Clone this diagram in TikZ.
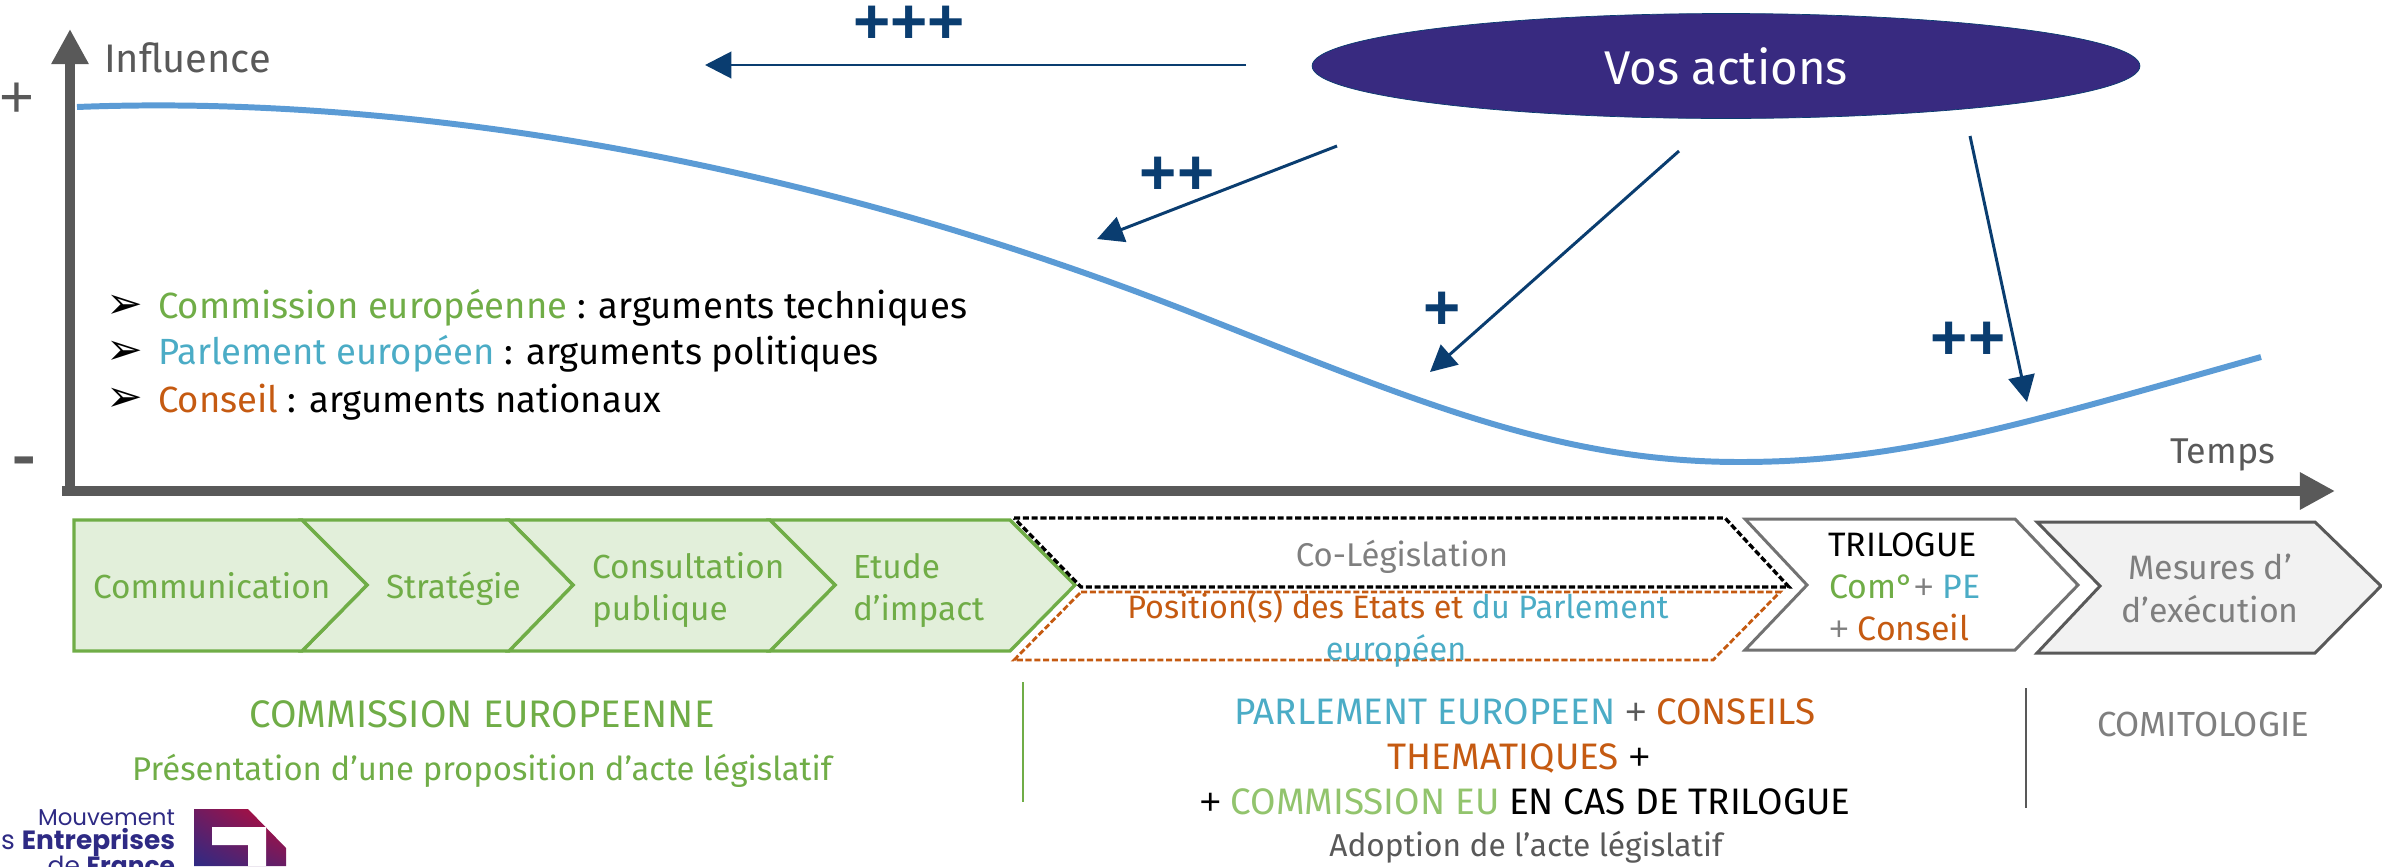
\documentclass[tikz,border=0pt]{standalone}
\usepackage{fontspec}
\setmainfont{Fira Sans}
\newfontfamily\dejavu{DejaVu Sans}
\newfontfamily\libs{Liberation Sans}
\newfontfamily\popp{Poppins}
\usetikzlibrary{arrows.meta,shapes.geometric,shadings}
\definecolor{cgreen}{HTML}{70AD47}
\definecolor{cfill}{HTML}{E2EFDA}
\definecolor{cblue}{HTML}{4BACC6}
\definecolor{corange}{HTML}{C55A11}
\definecolor{cgrey}{HTML}{7F7F7F}
\definecolor{cdark}{HTML}{595959}
\definecolor{cnavy}{HTML}{0A3D70}
\definecolor{cviolet}{HTML}{382A80}
\definecolor{ccurve}{HTML}{5B9BD5}
\definecolor{clight}{HTML}{92C46D}
\definecolor{clogoA}{HTML}{C00A35}
\definecolor{clogoB}{HTML}{2E2A84}
\newcommand{\sz}[1]{\fontsize{\dimexpr#1pt*567/1000\relax}{\dimexpr#1pt*7/10\relax}\selectfont}
\newcommand{\pl}{{\libs +}}
\tikzset{
 x=0.02cm,y=-0.02cm,
 txt/.style={inner sep=0pt,outer sep=0pt,anchor=base},
 txtl/.style={inner sep=0pt,outer sep=0pt,anchor=base west},
 txtr/.style={inner sep=0pt,outer sep=0pt,anchor=base east},
 axisline/.style={cdark,line width=6.2pt,-{Triangle[length=20pt,width=20pt]}},
 navyarrow/.style={cnavy,line width=1.7pt,-{Triangle[length=15pt,width=15pt]}},
 greenchev/.style={draw=cgreen,fill=cfill,line width=1.9pt,line join=miter},
 plusmark/.style={txt,text=cnavy,font=\bfseries\libs\sz{64}},
}
\begin{document}
\begin{tikzpicture}
\useasboundingbox (0,0) rectangle (2382,866);
% axes
\coordinate (ya) at (70,492); \coordinate (yb) at (70,29);
\coordinate (xa) at (62,491); \coordinate (xb) at (2335,491);
\draw[axisline] (ya) -- (yb);
\draw[axisline] (xa) -- (xb);
% curve
\draw[ccurve,line width=3.4pt] (77,107) .. controls (380,95) and (780,150) .. (1200,316)
  .. controls (1420,403) and (1560,462) .. (1740,462)
  .. controls (1900,462) and (2020,425) .. (2261,357);
% labels
\node[txtl,text=cdark,font=\sz{40}] (influence) at (104,72) {Influence};
\node[txtl,text=cdark,font=\libs\sz{60}] (plustop) at (-1,117) {+};
\node[txtl,text=cdark,font=\bfseries\sz{58}] (minus) at (12,478) {-};
\node[txtr,text=cdark,font=\sz{36}] (temps) at (2275,463) {Temps};
% action ellipse
\node[ellipse,fill=cviolet,draw=cnavy,line width=.4pt,minimum width=16.56cm,minimum height=2.1cm,inner sep=0pt] (actions) at (1726,66) {};
\node[txt,text=white,font=\sz{47.5}] (actionstext) at (1726,84) {Vos actions};
% arrows
\coordinate (a1s) at (1246,65); \coordinate (a1e) at (705,65);
\coordinate (a2s) at (1337,146); \coordinate (a2e) at (1097,239);
\coordinate (a3s) at (1679,151); \coordinate (a3e) at (1430,372);
\coordinate (a4s) at (1970,136); \coordinate (a4e) at (2027,402);
\draw[navyarrow] (a1s) -- (a1e);
\draw[navyarrow] (a2s) -- (a2e);
\draw[navyarrow] (a3s) -- (a3e);
\draw[navyarrow] (a4s) -- (a4e);
\node[plusmark] (p3) at (909,43) {+++};
\node[plusmark] (p2) at (1177,194) {++};
\node[plusmark] (p1) at (1442,329) {+};
\node[plusmark] (p2b) at (1968,359) {++};
% bullets
\node[txtl,font=\dejavu\sz{44}] (b1) at (106,318) {➢};
\node[txtl,font=\dejavu\sz{44}] (b2) at (106,364) {➢};
\node[txtl,font=\dejavu\sz{44}] (b3) at (106,411) {➢};
\node[txtl,font=\sz{36.6}] (l1) at (158,318) {\textcolor{cgreen}{Commission européenne} : arguments techniques};
\node[txtl,font=\sz{36.6}] (l2) at (158,364) {\textcolor{cblue}{Parlement européen} : arguments politiques};
\node[txtl,font=\sz{36.6}] (l3) at (158,412) {\textcolor{corange}{Conseil} : arguments nationaux};
% green chevrons
\draw[greenchev] (770,520) -- (1010,520) -- (1075,585) -- (1010,651) -- (770,651) -- (835,585) -- cycle;
\draw[greenchev] (509,520) -- (770,520) -- (835,585) -- (770,651) -- (509,651) -- (573,585) -- cycle;
\draw[greenchev] (302,520) -- (509,520) -- (573,585) -- (509,651) -- (302,651) -- (367,585) -- cycle;
\draw[greenchev] (74,520) -- (302,520) -- (367,585) -- (302,651) -- (74,651) -- cycle;
\node[txtl,text=cgreen,font=\sz{33.5}] (c1) at (93,598) {Communication};
\node[txtl,text=cgreen,font=\sz{33.5}] (c2) at (386,598) {Stratégie};
\node[txtl,text=cgreen,font=\sz{33.5}] (c3a) at (592,578) {Consultation};
\node[txtl,text=cgreen,font=\sz{33.5}] (c3b) at (592,620) {publique};
\node[txtl,text=cgreen,font=\sz{33.5}] (c4a) at (853,578) {Etude};
\node[txtl,text=cgreen,font=\sz{33.5}] (c4b) at (853,620) {d’impact};
% dashed
\draw[black,dash pattern=on 3.5pt off 1.5pt,line width=1.9pt] (1014,518) -- (1725,518) -- (1789,587) -- (1081,587) -- cycle;
\draw[corange,dash pattern=on 3.5pt off 1.5pt,line width=1.6pt] (1081,592) -- (1780,592) -- (1713,660) -- (1014,660) -- cycle;
\node[txt,text=cgrey,font=\sz{33}] (colegist) at (1402,566) {Co-Législation};
\node[txt,font=\sz{32.5}] (pos1) at (1398,618) {\textcolor{corange}{Position(s) des Etats et} \textcolor{cblue}{du Parlement}};
\node[txt,text=cblue,font=\sz{32.5}] (pos2) at (1396,660) {européen};
% trilogue
\draw[cdark!85,line width=1.7pt] (1745,519) -- (2015,519) -- (2078,585) -- (2015,650) -- (1745,650) -- (1807,585) -- cycle;
\node[txtl,font=\sz{34}] (t1) at (1828,556) {TRILOGUE};
\node[txtl,font=\sz{34}] (t2) at (1829,598) {\textcolor{cgreen}{Com°}\textcolor{cgrey}{\pl} \textcolor{cblue}{PE}};
\node[txtl,font=\sz{34}] (t3) at (1829,640) {\textcolor{cgrey}{\pl} \textcolor{corange}{Conseil}};
% mesures
\draw[cdark,fill=black!5,line width=1.7pt] (2037,522) -- (2315,522) -- (2381,586) -- (2315,653) -- (2037,653) -- (2100,586) -- cycle;
\node[txt,text=cgrey,font=\sz{34}] (m1) at (2210,579) {Mesures d’};
\node[txt,text=cgrey,font=\sz{34}] (m2) at (2210,622) {d’exécution};
% bottom
\node[txt,text=cgreen,font=\sz{38.5}] (bt1) at (482,727) {COMMISSION EUROPEENNE};
\node[txt,text=cgreen,font=\sz{33}] (bt2) at (482,780) {Présentation d’une proposition d’acte législatif};
\coordinate (v1a) at (1023,682); \coordinate (v1b) at (1023,802);
\coordinate (v2a) at (2026,688); \coordinate (v2b) at (2026,808);
\draw[cgreen,line width=1.2pt] (v1a) -- (v1b);
\draw[cdark,line width=1.2pt] (v2a) -- (v2b);
\node[txt,font=\sz{37}] (bm1) at (1525,724) {\textcolor{cblue}{PARLEMENT EUROPEEN} \textcolor{cdark}{\pl} \textcolor{corange}{CONSEILS}};
\node[txt,font=\sz{37}] (bm2) at (1519,769) {\textcolor{corange}{THEMATIQUES} \pl};
\node[txt,font=\sz{37}] (bm3) at (1525,814) {\pl{} \textcolor{clight}{COMMISSION EU} EN CAS DE TRILOGUE};
\node[txt,text=cdark,font=\sz{31.8}] (bm4) at (1526,856) {Adoption de l’acte législatif};
\node[txt,text=cgrey,font=\sz{35}] (comit) at (2203,736) {COMITOLOGIE};
% logo
\begin{scope}
\clip (0,0) rectangle (2382,866);
\shade[lower left=clogoB,lower right=clogoB!60!clogoA,upper left=clogoB!55!clogoA,upper right=clogoA] (194,809) -- (248,809) -- (286,848) -- (286,866) -- (194,866) -- cycle;
\fill[white] (212,827) -- (266,827) -- (266,866) -- (248,866) -- (248,845) -- (212,845) -- cycle;
\node[txtr,text=clogoB,font=\popp\sz{23}] (lg1) at (175,825) {Mouvement};
\node[txtr,text=clogoB,font=\popp\sz{26.5}] (lg2) at (175,849) {es \textbf{Entreprises}};
\node[txtr,text=clogoB,font=\popp\sz{25}] (lg3) at (175,874) {de \textbf{France}};
\end{scope}
\end{tikzpicture}
\end{document}
